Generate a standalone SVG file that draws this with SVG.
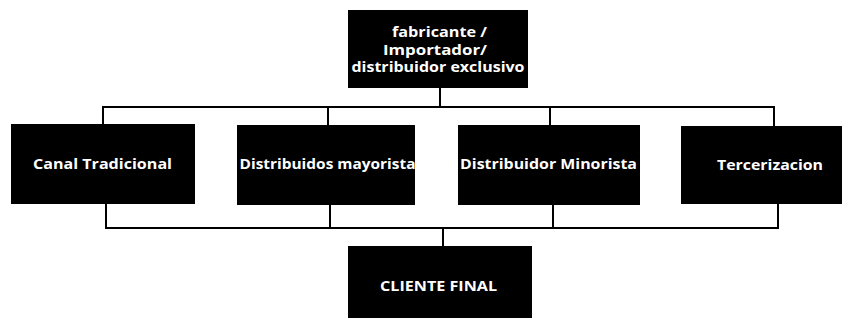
<svg xmlns="http://www.w3.org/2000/svg" width="853" height="321" viewBox="0 0 853 321">
<style>
.box{fill:#000;}
.lbl{fill:#fff;font-family:"Open Sans","Liberation Sans",sans-serif;font-weight:700;font-size:15px;text-anchor:middle;}
.top{font-size:14px;}
.ln{stroke:#000;stroke-width:2;fill:none;}
</style>
<rect width="853" height="321" fill="#fff"/>
<g id="connectors">
<path class="ln" d="M440 88V107M103 124V107H774V126M328 107V125M550 107V125"/>
<path class="ln" d="M106 203V228H778V204M330 205V228M553 205V228M443 228V246"/>
</g>
<g id="n-fabricante">
<rect class="box" x="348" y="10" width="180" height="78"/>
<text class="lbl top" x="439.5" y="37" textLength="95" lengthAdjust="spacingAndGlyphs">fabricante /</text>
<text class="lbl top" x="435" y="54.5" textLength="104" lengthAdjust="spacingAndGlyphs">Importador/</text>
<text class="lbl top" x="438" y="72" textLength="173" lengthAdjust="spacingAndGlyphs">distribuidor exclusivo</text>
</g>
<g id="n-canal">
<rect class="box" x="11" y="124" width="184" height="80"/>
<text class="lbl" x="102.5" y="169" textLength="139" lengthAdjust="spacingAndGlyphs">Canal Tradicional</text>
</g>
<g id="n-mayorista">
<rect class="box" x="237" y="125" width="178" height="80"/>
<text class="lbl" x="327.5" y="169" textLength="176" lengthAdjust="spacingAndGlyphs">Distribuidos mayorista</text>
</g>
<g id="n-minorista">
<rect class="box" x="458" y="125" width="182" height="80"/>
<text class="lbl" x="548.5" y="169" textLength="177" lengthAdjust="spacingAndGlyphs">Distribuidor Minorista</text>
</g>
<g id="n-tercerizacion">
<rect class="box" x="681" y="126" width="161" height="78"/>
<text class="lbl" x="770" y="170" textLength="106" lengthAdjust="spacingAndGlyphs">Tercerizacion</text>
</g>
<g id="n-cliente">
<rect class="box" x="348" y="246" width="184" height="72"/>
<text class="lbl" x="438.5" y="291" textLength="117" lengthAdjust="spacingAndGlyphs">CLIENTE FINAL</text>
</g>
</svg>
